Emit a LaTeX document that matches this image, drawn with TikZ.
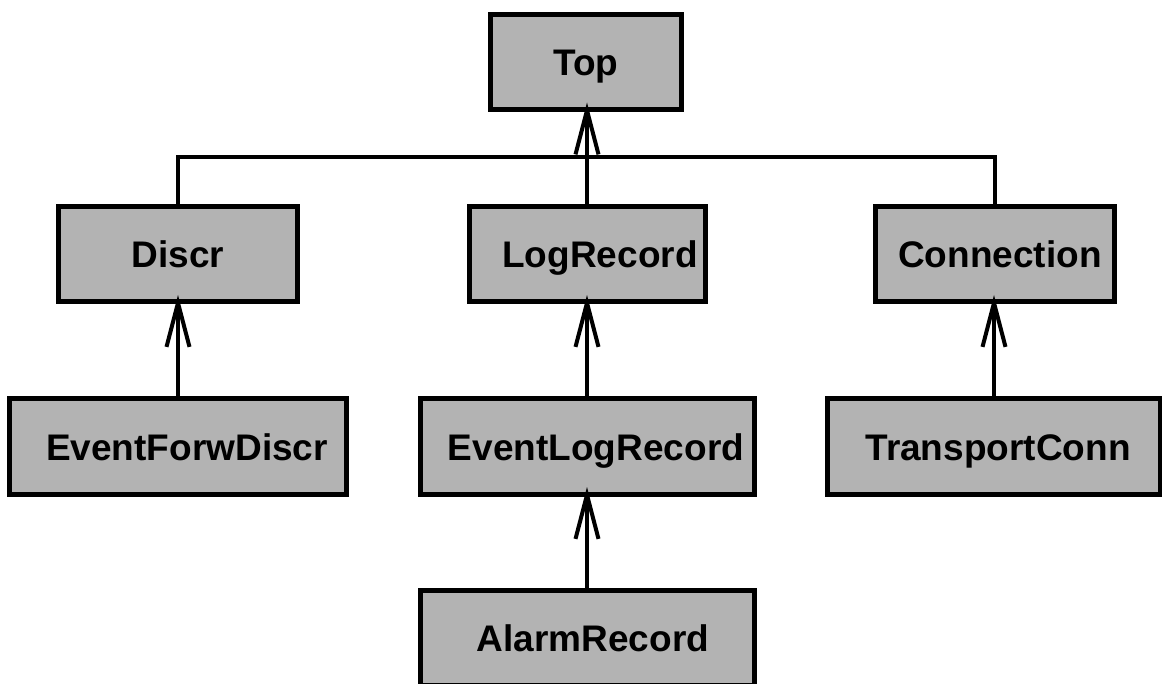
\documentclass[tikz,border=0pt]{standalone}
\usepackage{fontspec}
\setmainfont{Liberation Sans}
\usetikzlibrary{arrows.meta}
\definecolor{boxgray}{RGB}{179,179,179}
\tikzset{
  classbox/.style={draw=black, fill=boxgray, line width=5pt, rectangle,
    outer sep=0pt, inner sep=0pt, minimum height=95pt,
    text height=27pt, text depth=0pt,
    font=\fontsize{37}{44}\selectfont\bfseries},
  inherit/.style={line width=4pt, shorten >=-7pt,
    -{Straight Barb[length=44pt,width=23pt,line width=4pt]}},
  bus/.style={line width=3.5pt, line join=miter}
}
\begin{document}
\begin{tikzpicture}[x=1pt,y=-1pt]
  \useasboundingbox (0,0) rectangle (1162,684);
  \clip (0,0) rectangle (1162,684);

  % class boxes
  \node[classbox, minimum width=191pt] (top)   at (586,62)    {Top};
  \node[classbox, minimum width=239pt] (discr) at (178,254.5) {Discr};
  \node[classbox, minimum width=236pt] (logrec) at (587,254.5) {\hspace*{26pt}LogRecord};
  \node[classbox, minimum width=239pt] (conn)  at (995,254.5) {\hspace*{10pt}Connection};
  \node[classbox, minimum width=337pt] (efd)   at (178,446.5) {\hspace*{18pt}EventForwDiscr};
  \node[classbox, minimum width=334pt] (elr)   at (587,446.5) {\hspace*{18pt}EventLogRecord};
  \node[classbox, minimum width=333pt] (tc)    at (994,446.5) {\hspace*{8pt}TransportConn};
  \node[classbox, minimum width=334pt] (alarm) at (587,638)   {\hspace*{12pt}AlarmRecord};

  % common bus joining Discr and Connection to the root
  \coordinate (bus) at (586,157);
  \draw[bus] (discr.north) |- (bus) -| (conn.north);

  % inheritance arrows, kept vertical
  \draw[inherit] (logrec.north) -- (logrec.north |- top.south);
  \draw[inherit] (efd.north) -- (efd.north |- discr.south);
  \draw[inherit] (elr.north) -- (elr.north |- logrec.south);
  \draw[inherit] (tc.north) -- (tc.north |- conn.south);
  \draw[inherit] (alarm.north) -- (alarm.north |- elr.south);
\end{tikzpicture}
\end{document}
